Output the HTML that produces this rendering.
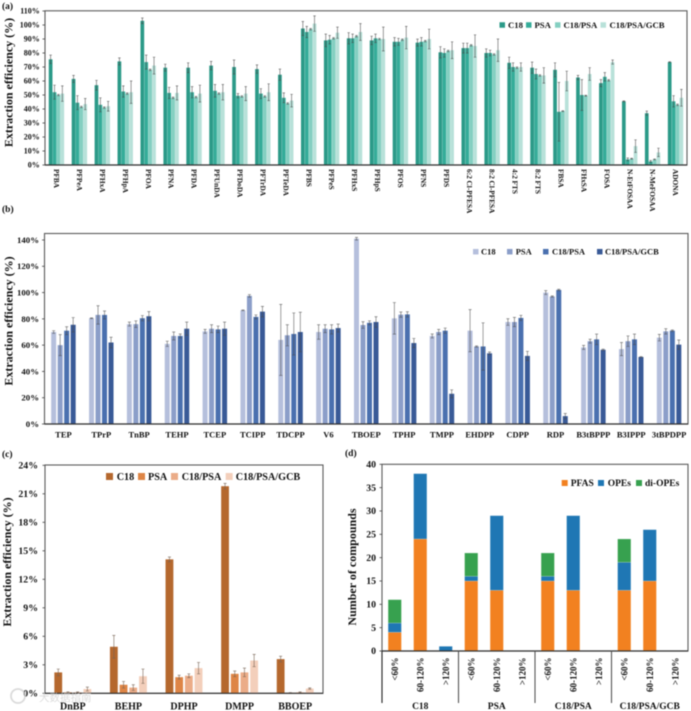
<!DOCTYPE html>
<html lang="en">
<head>
<meta charset="utf-8">
<title>Extraction efficiency charts</title>
<style>
html,body{margin:0;padding:0;background:#fff;width:691px;height:711px;overflow:hidden}
#figure{display:block;filter:blur(0.45px)}
text{font-family:"Liberation Serif","Noto Sans CJK SC",serif;font-weight:bold;fill:#111}
</style>
</head>
<body>
<svg id="figure" xmlns="http://www.w3.org/2000/svg" width="691" height="711" viewBox="0 0 691 711"></svg>
<script>
// ---- Panel (a) data ----
const categoriesA = ["PFBA","PFPeA","PFHxA","PFHpA","PFOA","PFNA","PFDA","PFUnDA","PFDoDA","PFTrDA","PFTeDA","PFBS","PFPeS","PFHxS","PFHpS","PFOS","PFNS","PFDS","6:2 Cl-PFESA","8:2 Cl-PFESA","4:2 FTS","8:2 FTS","FBSA","FHxSA","FOSA","N-EtFOSAA","N-MeFOSAA","ADONA"];
const seriesNamesA = ["C18","PSA","C18/PSA","C18/PSA/GCB"];
const ticksA = [0,10,20,30,40,50,60,70,80,90,100,110];
const c18A = [75.5,61.5,57,74,103,69.5,69.5,71,70,68.5,64.5,97.5,89,90.5,89,88,87.4,80.5,83.5,80,73,69.5,68,62.5,58.5,45.5,37,73.5];
const psaA = [52,44.5,43,52.5,73.5,51.5,52,53,49.5,51,48,95,89.5,90.5,90.5,88,88,80,83.5,80,70,65,38,50,63,4,2.5,45.5];
const mixA = [50,41.5,41,51,68,48,48.5,51,49,49,44,97,90.5,92,90,89.5,88.5,81.5,85.5,79,69.5,64,38.5,49.5,60.5,4.5,4,43];
const gcbA = [51,43.5,42,52,71,51.5,51,52,51,52,46,101,94.5,95,90,91,90,82,85,82,70,64,60,65,73.5,13.5,9,48];
const c18ErrA = [3,2.5,3.5,2.5,2,2.5,3.5,3,5,3,4,5,4.5,4,3,3,2.5,4,3.5,3,4,4,5,1.5,2.5,0.3,1.5,0.3];
const psaErrA = [5,5,5,4,5,4,4,4.5,1.5,3.5,3.5,4,3,3,3,2.5,3,3,3.5,2,3,3.5,21,11,3,1,0.7,4];
const mixErrA = [0.5,0.5,0.5,0.5,0.5,0.5,0.5,0.5,0.5,0.5,0.5,0.5,0.5,0.5,0.5,0.5,0.5,0.5,0.5,0.5,0.5,0.5,0.3,0.3,0.5,0.3,0.3,0.5];
const gcbErrA = [5.5,4,3.5,8,6,5,6,5.5,5,6,4.5,5.5,4,6,8.5,8,7,6,8,8,3,5.5,7,4.5,1.5,4.5,3,6];
// ---- Panel (b) data ----
const categoriesB = ["TEP","TPrP","TnBP","TEHP","TCEP","TCIPP","TDCPP","V6","TBOEP","TPHP","TMPP","EHDPP","CDPP","RDP","B3tBPPP","B3IPPP","3tBPDPP"];
const seriesNamesB = ["C18","PSA","C18/PSA","C18/PSA/GCB"];
const ticksB = [0,20,40,60,80,100,120,140];
const valC18B = [70,80.5,76,61,70.5,86.5,64,70,141,80.4,67,71,77.6,100,58.3,57,65.7];
const valPsaB = [60,83,76,67,72.5,97.5,67.5,72.5,75.3,83.2,70,59,77.6,97,63,63,70.5];
const valMixB = [71,83,80.5,67,72,81.5,68.5,72,77,83.4,71,59,80.7,102,64.4,64.4,71];
const valGcbB = [75.5,62,82,72.5,72.5,85.5,70,73,77.6,61.6,23,53.8,51.8,6,56.5,51,60.4];
const errC18B = [1,0.3,1.5,2,1.5,0.3,27,5.5,1,12,1.5,16,2.5,1.5,1.5,5,2.5];
const errPsaB = [8,7,2.5,3,3,1,8,3,2.5,2,2,0.5,3.5,0.5,1.5,4,2];
const errMixB = [3,3,2,1.5,2.5,1.5,16,3.5,1.5,2,2,18,2,0.5,4,4,0.5];
const errGcbB = [5.5,4,3.5,5,5,4,15,3,4,3.5,3,1,3.5,2,0.5,0.3,3.5];
// ---- Panel (c) data ----
const categoriesC = ["DnBP","BEHP","DPHP","DMPP","BBOEP"];
const seriesNamesC = ["C18","PSA","C18/PSA","C18/PSA/GCB"];
const ticksC = [0,3,6,9,12,15,18,21,24];
const valC18C = [2.2,4.9,14.1,21.8,3.6];
const valPsaC = [0.1,0.9,1.7,2.05,0.05];
const valMixC = [0.1,0.6,1.85,2.2,0.1];
const valGcbC = [0.45,1.8,2.65,3.45,0.5];
const errC18C = [0.35,1.2,0.25,0.3,0.3];
const errPsaC = [0.05,0.35,0.2,0.3,0.03];
const errMixC = [0.05,0.3,0.2,0.45,0.05];
const errGcbC = [0.2,0.75,0.6,0.65,0.07];
// ---- Panel (d) data ----
const categoriesD = ["<60%","60-120%",">120%","<60%","60-120%",">120%","<60%","60-120%",">120%","<60%","60-120%",">120%"];
const groupsD = ["C18","PSA","C18/PSA","C18/PSA/GCB"];
const seriesNamesD = ["PFAS","OPEs","di-OPEs"];
const ticksD = [0,5,10,15,20,25,30,35,40];
const pfasD = [4,24,0,15,13,0,15,13,0,13,15,0];
const opesD = [2,14,1,1,16,0,1,16,0,6,11,0];
const diOpesD = [5,0,0,5,0,0,5,0,0,5,0,0];

const SVGNS = "http://www.w3.org/2000/svg";
const root = document.getElementById("figure");

function add(parent, tag, attrs, content) {
  const node = document.createElementNS(SVGNS, tag);
  for (const k in attrs) node.setAttribute(k, attrs[k]);
  if (content !== undefined) node.textContent = content;
  parent.appendChild(node);
  return node;
}
function slug(s) {
  return String(s).toLowerCase().replace(/</g,"lt-").replace(/>/g,"gt-").replace(/%/g,"").replace(/[^a-z0-9]+/g,"-").replace(/^-|-$/g,"");
}
function yScale(p, v) { return p.bottom - (v / p.yMax) * (p.bottom - p.yTopPx); }
function xCenter(p, i) { return p.left + (i + 0.5) * (p.right - p.left) / p.count; }
function xBar(p, i, s, n) { return xCenter(p, i) + (s - (n - 1) / 2) * p.step - p.barW / 2; }

function drawFrame(g, p) {
  const frame = add(g, "rect", {x:p.left, y:p.top, width:p.right-p.left, height:p.bottom-p.top, fill:"none", stroke:"#5a5a5a", "stroke-width":1.1});
  
  
}
function drawYAxis(g, p, ticks, suffix) {
  ticks.forEach(function (t) {
    const y = yScale(p, t);
    const mark = add(g, "line", {x1:p.left-2.5, x2:p.left, y1:y, y2:y, stroke:"#444", "stroke-width":0.8});
    
    
    const label = add(g, "text", {x:p.left-p.tickGap, y:y+p.tickFont*0.33, "text-anchor":"end", "font-size":p.tickFont}, t + suffix);
    
    
  });
  const base = add(g, "line", {x1:p.left, x2:p.right, y1:p.bottom, y2:p.bottom, stroke:"#333", "stroke-width":1.2});
  
  
}
function drawTitle(g, text, x, y, size) {
  const t = add(g, "text", {x:x, y:y, "text-anchor":"middle", "font-size":size, transform:"rotate(-90 "+x+" "+y+")"}, text);
  
  
}
function drawPanelLabel(g, text, x, y) {
  const t = add(g, "text", {x:x, y:y, "font-size":9.5}, text);
  
  
}
function drawGroupedBars(g, p, values, errors, names) {
  values.forEach(function (series, s) {
    series.forEach(function (v, i) {
      const x = xBar(p, i, s, values.length);
      const y = yScale(p, v);
      const bar = add(g, "rect", {x:x, y:y, width:p.barW, height:p.bottom-y, fill:p.colors[s]});
      
      
    });
  });
  values.forEach(function (series, s) {
    series.forEach(function (v, i) {
      const cx = xBar(p, i, s, values.length) + p.barW / 2;
      const hi = yScale(p, v + errors[s][i]);
      const lo = yScale(p, Math.max(0, v - errors[s][i]));
      const cap = p.capW;
      const eb = add(g, "path", {d:"M"+cx+" "+lo+"V"+hi+"M"+(cx-cap)+" "+hi+"H"+(cx+cap)+"M"+(cx-cap)+" "+lo+"H"+(cx+cap), fill:"none", stroke:p.errColor, "stroke-width":0.7});
      
      
    });
  });
}
function drawLegend(g, names, colors, swatchX, textX, y, size, swatch) {
  names.forEach(function (name, i) {
    const sw = add(g, "rect", {x:swatchX[i], y:y-swatch/2, width:swatch, height:swatch, fill:colors[i]});
    
    
    const t = add(g, "text", {x:textX[i], y:y+size*0.33, "font-size":size}, name);
    
    
  });
}

// Panel (a)
const panelA = {left:45, right:687, top:10.8, bottom:165, yTopPx:11, yMax:110, count:categoriesA.length, step:3.9, barW:3.7, capW:1.2,
  tickFont:8, tickGap:5.2, categories:categoriesA, colors:["#2B9A88","#35AC99","#84CFC1","#B8E1D9"], errColor:"rgba(75,75,75,.8)"};
const groupA = add(root, "g", {});


drawPanelLabel(groupA, "(a)", 2, 9);
drawFrame(groupA, panelA);
drawGroupedBars(groupA, panelA, [c18A,psaA,mixA,gcbA], [c18ErrA,psaErrA,mixErrA,gcbErrA], seriesNamesA);
drawYAxis(groupA, panelA, ticksA, "%");
drawTitle(groupA, "Extraction efficiency (%)", 12.5, 82.5, 12);
categoriesA.forEach(function (c, i) {
  const x = xCenter(panelA, i) - 2.4;
  const t = add(groupA, "text", {x:x, y:169, "font-size":7.3, transform:"rotate(90 "+x+" 169)"}, c);
  
  
});
drawLegend(groupA, seriesNamesA, panelA.colors, [499.5,526,555,600.5], [508,534.5,563.5,609.5], 25, 8.7, 5.5);

// Panel (b)
const panelB = {left:44.5, right:688, top:233.5, bottom:424, yTopPx:240, yMax:140, count:categoriesB.length, step:6.5, barW:5, capW:1.5,
  tickFont:8.8, tickGap:5.5, categories:categoriesB, colors:["#B5BFDC","#8B9EC9","#4A70AF","#395A97"], errColor:"rgba(75,75,75,.75)"};
const groupB = add(root, "g", {});


drawPanelLabel(groupB, "(b)", 2, 212);
drawFrame(groupB, panelB);
drawGroupedBars(groupB, panelB, [valC18B,valPsaB,valMixB,valGcbB], [errC18B,errPsaB,errMixB,errGcbB], seriesNamesB);
drawYAxis(groupB, panelB, ticksB, "%");
drawTitle(groupB, "Extraction efficiency (%)", 12.5, 321, 12);
categoriesB.forEach(function (c, i) {
  const t = add(groupB, "text", {x:xCenter(panelB, i), y:437.5, "text-anchor":"middle", "font-size":8.5}, c);
  
  
});
drawLegend(groupB, seriesNamesB, panelB.colors, [473,507,543,597], [481,515.7,552,605], 251.7, 8.5, 5.5);

// Panel (c)
const panelC = {left:45, right:323, top:465, bottom:693.3, yTopPx:465.3, yMax:24, count:categoriesC.length, step:9.7, barW:7.8, capW:1.5,
  tickFont:9.8, tickGap:7, categories:categoriesC, colors:["#B5682E","#DE8546","#EBAC88","#F3CFBB"], errColor:"rgba(120,100,85,.85)"};
const groupC = add(root, "g", {});


drawPanelLabel(groupC, "(c)", 2, 457);
drawFrame(groupC, panelC);
drawGroupedBars(groupC, panelC, [valC18C,valPsaC,valMixC,valGcbC], [errC18C,errPsaC,errMixC,errGcbC], seriesNamesC);
drawYAxis(groupC, panelC, ticksC, "%");
drawTitle(groupC, "Extraction efficiency (%)", 11, 562, 12);
categoriesC.forEach(function (c, i) {
  const t = add(groupC, "text", {x:xCenter(panelC, i), y:709.5, "text-anchor":"middle", "font-size":10}, c);
  
  
});
drawLegend(groupC, seriesNamesC, panelC.colors, [106,138,171,225.7], [116.7,148,181.7,235.7], 476.5, 10.2, 7);

// Panel (d)
const panelD = {left:382, right:688, top:464.3, bottom:651, yTopPx:464.3, yMax:40, count:categoriesD.length, barW:13.3,
  tickFont:9.8, tickGap:6, categories:categoriesD, colors:["#F28120","#1F77B4","#37A14F"]};
const groupD = add(root, "g", {});


drawPanelLabel(groupD, "(d)", 345, 456);
drawFrame(groupD, panelD);
[pfasD,opesD,diOpesD].forEach(function (series, s, all) {
  series.forEach(function (v, i) {
    if (v === 0) return;
    let below = 0;
    for (let k = 0; k < s; k++) below += all[k][i];
    const y = yScale(panelD, below + v);
    const h = yScale(panelD, below) - y;
    const seg = add(groupD, "rect", {x:xCenter(panelD, i)-panelD.barW/2, y:y, width:panelD.barW, height:h, fill:panelD.colors[s], stroke:"#fff", "stroke-opacity":0.45, "stroke-width":0.4});
    
    
  });
});
drawYAxis(groupD, panelD, ticksD, "");
drawTitle(groupD, "Number of compounds", 356, 567, 12);
categoriesD.forEach(function (c, i) {
  const x = xCenter(panelD, i) + 3;
  const t = add(groupD, "text", {x:x, y:657.5, "text-anchor":"end", "font-size":9, "font-weight":"normal", transform:"rotate(-90 "+x+" 657.5)"}, c);
  
  
});
groupsD.forEach(function (c, j) {
  const n = categoriesD.length / groupsD.length;
  const x0 = xCenter(panelD, j * n) - (panelD.right - panelD.left) / categoriesD.length / 2;
  const div = add(groupD, "line", {x1:x0, x2:x0, y1:panelD.bottom, y2:703, stroke:j === 0 ? "#222" : "#555", "stroke-width":1.1});
  
  
  const cx = x0 + (panelD.right - panelD.left) / groupsD.length / 2;
  const t = add(groupD, "text", {x:cx, y:709, "text-anchor":"middle", "font-size":9.5}, c);
  
  
});
drawLegend(groupD, seriesNamesD, panelD.colors, [561.7,598,636], [570.7,607.7,645], 483, 9.5, 6);

// Watermark
const wmIcon = add(root, "circle", {cx:18, cy:696, r:7, fill:"none", stroke:"#cfcfcf", "stroke-width":1.8, opacity:0.75});


const wmText = add(root, "text", {x:39, y:701, "font-size":10.5, opacity:0.75, style:"font-family:'Noto Sans CJK SC',sans-serif;font-weight:normal;fill:#cfcfcf"}, "大数据指南");


</script>
</body>
</html>
